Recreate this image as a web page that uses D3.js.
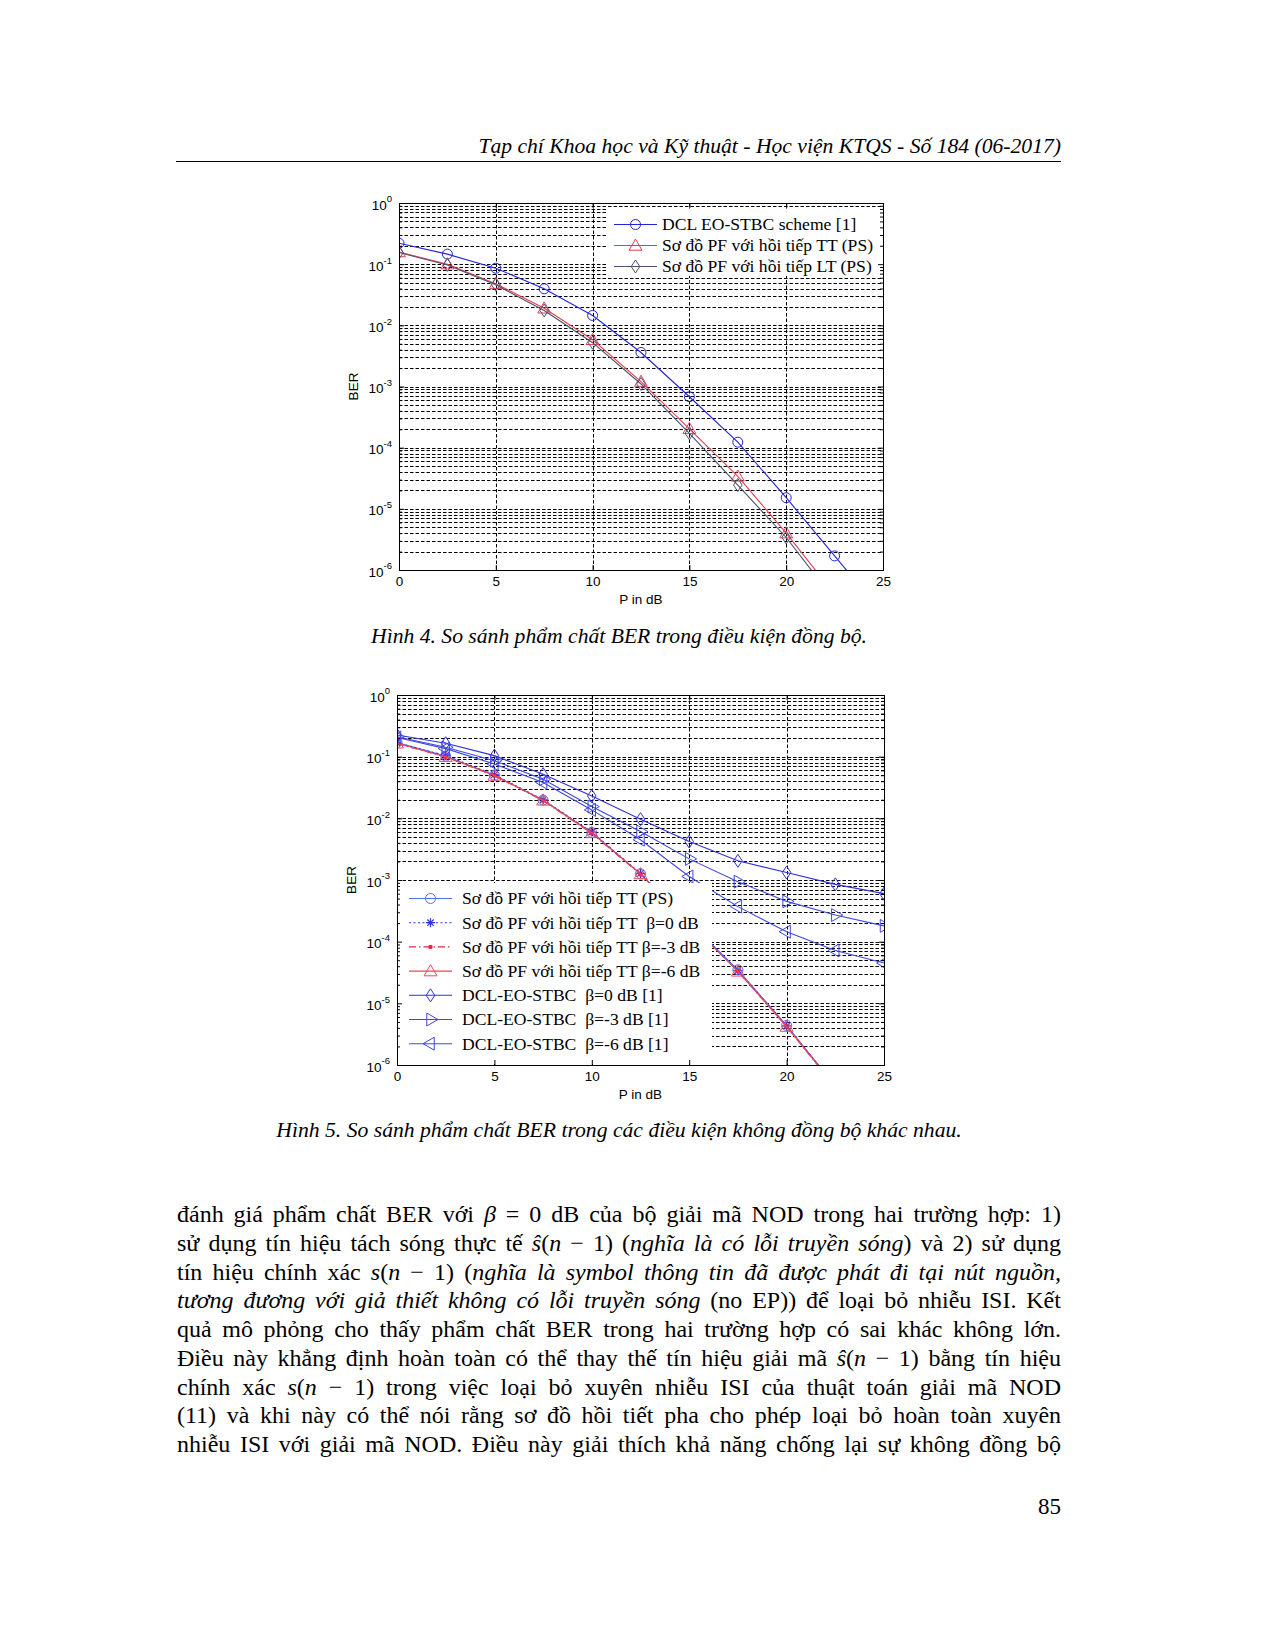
<!DOCTYPE html>
<html>
<head>
<meta charset="utf-8">
<script src="https://cdn.jsdelivr.net/npm/d3@7"></script>
<title>BER charts</title>
<style>
body { margin: 0; background: #fff; }
svg text { font-family: "Liberation Serif", "Times New Roman", serif; }
.ax text { font-family: "Liberation Sans", Arial, sans-serif; font-size: 13.5px; fill: #000; }
</style>
</head>
<body>
<svg id="page" width="1274" height="1649"></svg>
<script>
// P in dB sample points
var snr = [0, 2.5, 5, 7.5, 10, 12.5, 15, 17.5, 20, 22.5, 25];

// Hinh 4 - BER values
var fig4Dcl = [0.22, 0.146, 0.086, 0.0395, 0.0145, 0.0036, 6.8e-4, 1.23e-4, 1.52e-5, 1.7e-6, 1.9e-7];
var fig4Tt  = [0.158, 0.10, 0.048, 0.019, 0.0058, 0.0012, 2.03e-4, 3.4e-5, 4.0e-6, 4.0e-7, null];
var fig4Lt  = [0.155, 0.097, 0.046, 0.0175, 0.0052, 0.0011, 1.72e-4, 2.45e-5, 3.4e-6, 3.2e-7, null];
var fig4Names = ["DCL EO-STBC scheme [1]", "Sơ đồ PF với hồi tiếp TT (PS)", "Sơ đồ PF với hồi tiếp LT (PS)"];

// Hinh 5 - BER values
var fig5TtPs = [0.17, 0.102, 0.05, 0.0198, 0.0059, 0.00126, 2.05e-4, 3.5e-5, 4.4e-6, 4.6e-7, null];
var fig5TtB0 = [0.168, 0.104, 0.051, 0.020, 0.0060, 0.00128, 2.1e-4, 3.4e-5, 4.3e-6, 4.5e-7, null];
var fig5TtB3 = [0.163, 0.099, 0.049, 0.0193, 0.0057, 0.00123, 2.0e-4, 3.3e-5, 4.2e-6, 4.4e-7, null];
var fig5TtB6 = [0.165, 0.100, 0.0495, 0.0196, 0.0058, 0.00125, 2.02e-4, 3.3e-5, 4.2e-6, 4.4e-7, null];
var fig5DclB0 = [0.225, 0.165, 0.104, 0.052, 0.023, 0.0097, 0.0042, 0.00205, 0.00132, 8.5e-4, 6.0e-4];
var fig5DclB3 = [0.21, 0.142, 0.086, 0.043, 0.0155, 0.0061, 0.0022, 9.4e-4, 4.5e-4, 2.7e-4, 1.8e-4];
var fig5DclB6 = [0.205, 0.135, 0.076, 0.038, 0.0137, 0.0045, 0.00114, 3.7e-4, 1.45e-4, 7.2e-5, 4.5e-5];
var fig5Names = ["Sơ đồ PF với hồi tiếp TT (PS)", "Sơ đồ PF với hồi tiếp TT  β=0 dB",
                 "Sơ đồ PF với hồi tiếp TT β=-3 dB", "Sơ đồ PF với hồi tiếp TT β=-6 dB",
                 "DCL-EO-STBC  β=0 dB [1]", "DCL-EO-STBC  β=-3 dB [1]", "DCL-EO-STBC  β=-6 dB [1]"];

var xTicks = [0, 5, 10, 15, 20, 25];
var yExps = [0, -1, -2, -3, -4, -5, -6];

var svg = d3.select("#page");
svg.append("rect").attr("width", 1274).attr("height", 1649).attr("fill", "#fff");

// marker drawing
function marker(g, type, x, y, color) {
    if (type == "o") {
        g.append("circle").attr("cx", x).attr("cy", y).attr("r", 5)
         .attr("fill", "none").attr("stroke", color).attr("stroke-width", 1);
    } else if (type == "^" || type == ">" || type == "<") {
        var rot = type == "^" ? 0 : (type == ">" ? 90 : -90);
        g.append("path").attr("d", d3.symbol().type(d3.symbolTriangle).size(72)())
         .attr("transform", "translate(" + x + "," + (type == "^" ? y + 1 : y) + ") rotate(" + rot + ")")
         .attr("fill", "none").attr("stroke", color).attr("stroke-width", 1);
    } else if (type == "d") {
        g.append("path").attr("d", "M0,-6.5L4.3,0L0,6.5L-4.3,0Z").attr("transform", "translate(" + x + "," + y + ")")
         .attr("fill", "none").attr("stroke", color).attr("stroke-width", 1);
    } else if (type == "*") {
        g.append("path").attr("d", "M-4.5,0H4.5M0,-4.5V4.5M-3.2,-3.2L3.2,3.2M-3.2,3.2L3.2,-3.2").attr("transform", "translate(" + x + "," + y + ")")
         .attr("fill", "none").attr("stroke", color).attr("stroke-width", 1.2);
    } else if (type == ".") {
        g.append("circle").attr("cx", x).attr("cy", y).attr("r", 2.2).attr("fill", color);
    }
}

function drawChart(cfg) {
    var x = d3.scaleLinear().domain([0, 25]).range([cfg.x0, cfg.x1]);
    var y = d3.scaleLog().domain([1e-6, 1]).range([cfg.y1, cfg.y0]);
    var g = svg.append("g");
    var clipId = "clip" + cfg.id;
    svg.append("clipPath").attr("id", clipId).append("rect")
       .attr("x", cfg.x0).attr("y", cfg.y0).attr("width", cfg.x1 - cfg.x0).attr("height", cfg.y1 - cfg.y0);

    // grid (matlab dotted)
    var minor = [];
    yExps.forEach(function(e) {
        if (e < 0) for (var m = 2; m <= 9; m++) minor.push(m * Math.pow(10, e));
    });
    var grid = g.append("g").attr("stroke", "#000").attr("stroke-width", 1)
                .attr("stroke-dasharray", "3.5,2");
    grid.selectAll(".gy").data(yExps.map(function(e) { return Math.pow(10, e); }).concat(minor))
        .enter().append("line")
        .attr("x1", cfg.x0).attr("x2", cfg.x1)
        .attr("y1", function(d) { return Math.round(y(d)) + 0.5; })
        .attr("y2", function(d) { return Math.round(y(d)) + 0.5; });
    grid.selectAll(".gx").data(xTicks.slice(1, 5)).enter().append("line")
        .attr("x1", function(d) { return Math.round(x(d)) + 0.5; })
        .attr("x2", function(d) { return Math.round(x(d)) + 0.5; })
        .attr("y1", cfg.y0).attr("y2", cfg.y1);

    // curves
    var curves = g.append("g").attr("clip-path", "url(#" + clipId + ")");
    cfg.series.forEach(function(s) {
        var pts = snr.map(function(p, i) { return { p: p, v: s.values[i] }; });
        var line = d3.line().defined(function(d) { return d.v != null; })
                     .x(function(d) { return x(d.p); }).y(function(d) { return y(d.v); });
        curves.append("path").datum(pts).attr("d", line)
              .attr("fill", "none").attr("stroke", s.color).attr("stroke-width", s.width || 1.1)
              .attr("stroke-dasharray", s.dash || null);
        pts.forEach(function(d) {
            if (d.v != null && d.v >= 1e-6) marker(curves, s.mark, x(d.p), y(d.v), s.color);
        });
    });

    // legend background covers grid and curves
    var L = cfg.legend;
    g.append("rect").attr("x", L.x).attr("y", L.y).attr("width", L.w).attr("height", L.h).attr("fill", "#fff");

    // frame and ticks
    var ax = g.append("g").attr("class", "ax");
    ax.append("g").attr("transform", "translate(0," + cfg.y1 + ")")
      .call(d3.axisBottom(x).tickValues(xTicks).tickSizeInner(-5).tickSizeOuter(0).tickPadding(6));
    ax.append("g").attr("transform", "translate(0," + cfg.y0 + ")")
      .call(d3.axisTop(x).tickValues(xTicks).tickSizeInner(-5).tickSizeOuter(0).tickFormat(""));
    var left = ax.append("g").attr("transform", "translate(" + cfg.x0 + ",0)")
      .call(d3.axisLeft(y).tickValues(yExps.map(function(e) { return Math.pow(10, e); }))
              .tickSizeInner(-5).tickSizeOuter(0).tickPadding(7));
    left.selectAll(".tick text").each(function(d) {
        var t = d3.select(this);
        var e = Math.round(Math.log10(d));
        t.text(null).attr("dy", "0.45em");
        t.append("tspan").text("10");
        t.append("tspan").attr("dy", "-0.75em").attr("font-size", "9.5px").text(String(e));
    });
    ax.append("g").attr("transform", "translate(" + cfg.x0 + ",0)")
      .call(d3.axisLeft(y).tickValues(minor).tickSizeInner(-3).tickSizeOuter(0).tickFormat(""));
    ax.append("g").attr("transform", "translate(" + cfg.x1 + ",0)")
      .call(d3.axisRight(y).tickValues(yExps.map(function(e) { return Math.pow(10, e); }))
              .tickSizeInner(-5).tickSizeOuter(0).tickFormat(""));
    ax.append("g").attr("transform", "translate(" + cfg.x1 + ",0)")
      .call(d3.axisRight(y).tickValues(minor).tickSizeInner(-3).tickSizeOuter(0).tickFormat(""));
    ax.selectAll(".domain").remove();
    ax.selectAll(".tick line").attr("stroke", "#000");
    ax.append("rect").attr("x", cfg.x0 + 0.5).attr("y", cfg.y0 + 0.5)
      .attr("width", cfg.x1 - cfg.x0).attr("height", cfg.y1 - cfg.y0)
      .attr("fill", "none").attr("stroke", "#000").attr("stroke-width", 1);

    ax.append("text").attr("x", (cfg.x0 + cfg.x1) / 2).attr("y", cfg.y1 + 34)
      .attr("text-anchor", "middle").text("P in dB");
    ax.append("text").attr("transform", "translate(" + (cfg.x0 - 41) + "," + ((cfg.y0 + cfg.y1) / 2) + ") rotate(-90)")
      .attr("text-anchor", "middle").text("BER");

    // legend entries
    var lg = g.append("g");
    cfg.series.forEach(function(s, i) {
        var ry = L.rows[0] + i * L.step;
        lg.append("line").attr("x1", L.lx0).attr("x2", L.lx1).attr("y1", ry).attr("y2", ry)
          .attr("stroke", s.color).attr("stroke-width", s.width || 1.1).attr("stroke-dasharray", s.dash || null);
        marker(lg, s.mark, (L.lx0 + L.lx1) / 2, ry, s.color);
        lg.append("text").attr("x", L.tx).attr("y", ry).attr("dy", "0.33em")
          .attr("font-size", "17.6px").style("white-space", "pre").text(s.name);
    });
}

drawChart({
    id: 4, x0: 399, x1: 883, y0: 203, y1: 570,
    series: [
        { name: fig4Names[0], values: fig4Dcl, color: "#2424dc", mark: "o" },
        { name: fig4Names[1], values: fig4Tt, color: "#e8404c", mark: "^" },
        { name: fig4Names[2], values: fig4Lt, color: "#4a5272", mark: "d" }
    ],
    legend: { x: 607, y: 209, w: 275, h: 67, rows: [224.5], step: 21, lx0: 614, lx1: 657, tx: 662 }
});

drawChart({
    id: 5, x0: 397, x1: 884, y0: 695, y1: 1065,
    series: [
        { name: fig5Names[0], values: fig5TtPs, color: "#5a6cf0", mark: "o" },
        { name: fig5Names[1], values: fig5TtB0, color: "#2a36e0", mark: "*", dash: "2,2.5" },
        { name: fig5Names[2], values: fig5TtB3, color: "#e8283a", mark: ".", dash: "7,3,1.5,3" },
        { name: fig5Names[3], values: fig5TtB6, color: "#ec4858", mark: "^" },
        { name: fig5Names[4], values: fig5DclB0, color: "#3030d8", mark: "d" },
        { name: fig5Names[5], values: fig5DclB3, color: "#3e48e0", mark: ">" },
        { name: fig5Names[6], values: fig5DclB6, color: "#3e48e0", mark: "<" }
    ],
    legend: { x: 398, y: 883, w: 314, h: 181, rows: [898.5], step: 24.2, lx0: 409, lx1: 452, tx: 462 }
});

// page text
function fitText(t, w) {
    var len = t.node().getComputedTextLength();
    var fs = parseFloat(t.attr("font-size"));
    t.attr("font-size", (fs * w / len).toFixed(2) + "px");
}

var header = svg.append("text").attr("x", 1061).attr("y", 153).attr("text-anchor", "end")
    .attr("font-size", "20px").attr("font-style", "italic")
    .text("Tạp chí Khoa học và Kỹ thuật - Học viện KTQS - Số 184 (06-2017)");
fitText(header, 583);
svg.append("line").attr("x1", 176).attr("x2", 1061).attr("y1", 161.5).attr("y2", 161.5)
   .attr("stroke", "#000").attr("stroke-width", 1.2);

var cap1 = svg.append("text").attr("x", 619).attr("y", 643).attr("text-anchor", "middle")
    .attr("font-size", "20px").attr("font-style", "italic")
    .text("Hình 4. So sánh phẩm chất BER trong điều kiện đồng bộ.");
fitText(cap1, 496);
var cap2 = svg.append("text").attr("x", 619).attr("y", 1137).attr("text-anchor", "middle")
    .attr("font-size", "20px").attr("font-style", "italic")
    .text("Hình 5. So sánh phẩm chất BER trong các điều kiện không đồng bộ khác nhau.");
fitText(cap2, 686);

var body = [
    [["đánh giá phẩm chất BER với "], ["β", 1], [" = 0 dB của bộ giải mã NOD trong hai trường hợp: 1)"]],
    [["sử dụng tín hiệu tách sóng thực tế "], ["ŝ", 1], ["("], ["n", 1], [" − 1) ("], ["nghĩa là có lỗi truyền sóng", 1], [") và 2) sử dụng"]],
    [["tín hiệu chính xác "], ["s", 1], ["("], ["n", 1], [" − 1) ("], ["nghĩa là symbol thông tin đã được phát đi tại nút nguồn,", 1]],
    [["tương đương với giả thiết không có lỗi truyền sóng", 1], [" (no EP)) để loại bỏ nhiễu ISI. Kết"]],
    [["quả mô phỏng cho thấy phẩm chất BER trong hai trường hợp có sai khác không lớn."]],
    [["Điều này khẳng định hoàn toàn có thể thay thế tín hiệu giải mã "], ["ŝ", 1], ["("], ["n", 1], [" − 1) bằng tín hiệu"]],
    [["chính xác "], ["s", 1], ["("], ["n", 1], [" − 1) trong việc loại bỏ xuyên nhiễu ISI của thuật toán giải mã NOD"]],
    [["(11) và khi này có thể nói rằng sơ đồ hồi tiết pha cho phép loại bỏ hoàn toàn xuyên"]],
    [["nhiễu ISI với giải mã NOD. Điều này giải thích khả năng chống lại sự không đồng bộ"]]
];
body.forEach(function(segs, i) {
    var t = svg.append("text").attr("x", 177).attr("y", 1222 + i * 28.75).attr("font-size", "24px")
               .style("white-space", "pre");
    var full = "";
    segs.forEach(function(s) {
        t.append("tspan").attr("font-style", s[1] ? "italic" : null).text(s[0]);
        full += s[0];
    });
    var spaces = full.split(" ").length - 1;
    var len = t.node().getComputedTextLength();
    t.attr("word-spacing", ((884 - len) / spaces).toFixed(2));
});

svg.append("text").attr("x", 1061).attr("y", 1514).attr("text-anchor", "end")
   .attr("font-size", "23px").text("85");
</script>
</body>
</html>
